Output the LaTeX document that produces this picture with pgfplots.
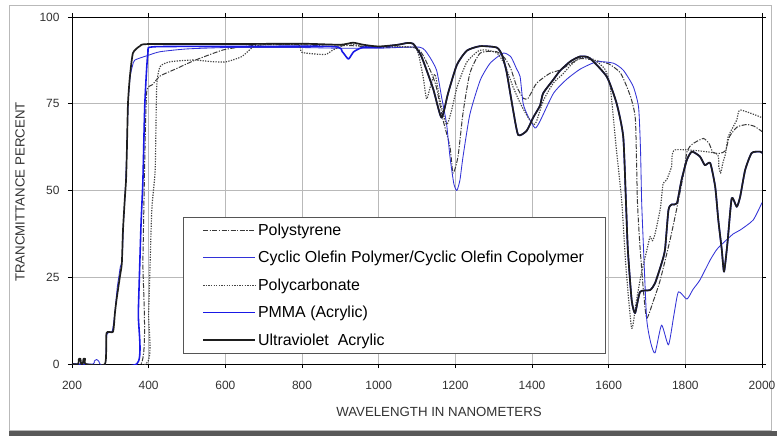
\documentclass[border=0pt]{standalone}
\usepackage{fontspec}
\setmainfont{Liberation Sans}
\usepackage{pgfplots}
\pgfplotsset{compat=1.18}
\definecolor{uvblack}{HTML}{1E1E1E}
\definecolor{psgray}{HTML}{3A3A3A}
\definecolor{pcgray}{HTML}{454545}
\definecolor{copblue}{RGB}{50,50,215}
\definecolor{pmmablue}{RGB}{25,25,230}
\definecolor{labgray}{HTML}{333333}
\definecolor{legframe}{HTML}{555555}
\begin{document}
\begin{tikzpicture}
\useasboundingbox (-72bp,-73bp) rectangle (705bp,364bp);
\fill[white] (-72bp,-73bp) rectangle (705bp,364bp);
\draw[gray!55, line width=0.8pt] (-63bp,-66bp) rectangle (699bp,359bp);
\fill[black!65] (-63bp,-72bp) rectangle (705bp,-67bp);
\begin{axis}[
  at={(0,0)}, anchor=south west,
  scale only axis, width=690bp, height=347bp,
  xmin=200, xmax=2000, ymin=0, ymax=100,
  xtick={200,400,...,2000}, ytick={0,25,50,75,100},
  grid=major, grid style={gray!55, line width=0.5pt},
  axis line style={black, line width=0.9pt},
  tick align=outside, major tick length=4bp,
  tick style={black, line width=0.6pt},
  tick label style={font=\fontsize{12}{14}\selectfont, text=labgray},
  /pgf/number format/assume math mode=true,
  /pgf/number format/1000 sep={},
  xticklabel style={yshift=-10bp},
  yticklabel style={xshift=-5bp},
  legend cell align=left,
  legend style={at={(axis cs:490,42.4)}, anchor=north west,
    draw=legframe, fill=white,
    font=\fontsize{16}{18}\selectfont,
    inner xsep=19bp, inner ysep=4.5bp, row sep=10.5bp},
  legend image code/.code={\path (0bp,0bp) -- (52bp,0bp);\draw[#1] (0bp,0bp) -- (47bp,0bp);},
  every axis plot/.append style={smooth, tension=0.35, line join=round},
]
% Polystyrene (dash-dot)
\addplot[color=psgray, draw=psgray, line width=1.0pt, dash pattern=on 5pt off 1.5pt on 1.2pt off 1.5pt] coordinates {
(200,0)(380,0)(385,30)(390,60)(395,78.5)(410,80.5)(430,83)(470,85)(520,87.5)(594,90.5)(650,91.5)(700,92)(800,92)(880,91.5)(920,91.8)(1000,91.2)(1100,91)(1133,85)(1150,80)(1168,70.3)(1186,62.6)(1194,55)(1207,59.8)(1220,72.3)(1238,83.8)(1265,89.6)(1308,90)(1330,88)(1345,85)(1360,80)(1377,76.6)(1390,76.6)(1412,80.9)(1447,83.8)(1473,84.7)(1500,86.5)(1526,88)(1560,87.6)(1600,86.5)(1630,84)(1647,80)(1660,76)(1670,70)(1675,47)(1681,35)(1690,22)(1699,13.2)(1716,18)(1734,24)(1760,35.7)(1778,45)(1794,54)(1805,61.5)(1820,63.5)(1847,65)(1862,63.5)(1872,61)(1890,60.7)(1905,61.5)(1915,65.5)(1935,68.3)(1960,69)(1980,68.5)(2000,67)
};
\addlegendentry{Polystyrene}
% Cyclic Olefin Polymer
\addplot[color=copblue, draw=copblue, line width=0.85pt] coordinates {
(200,0)(255,0)(258,0.8)(264,1.3)(270,0.8)(273,0)(287,0)(291,8.5)(305,9.5)(312,15)(318,22)(322,25)(326,28)(331,30)(334,40)(339,50)(343,62)(347,76)(352,83)(358,86)(364,87.6)(400,89)(430,90)(500,90.8)(600,91.2)(700,91.2)(800,91.2)(900,91)(1000,91)(1107,91.3)(1130,89)(1151,84.7)(1164,77)(1177,69.3)(1186,59.7)(1196,52)(1204,50)(1212,53)(1220,59.7)(1238,72)(1265,81.8)(1291,86.7)(1325,89.6)(1345,88.5)(1360,85)(1369,82.8)(1377,75)(1390,71.3)(1408,68)(1421,70)(1456,78)(1490,82)(1526,85)(1569,87.1)(1612,86.7)(1638,84.7)(1664,80)(1678,74)(1683,62)(1686,47)(1690,35.7)(1699,13.2)(1710,6)(1721,3.2)(1738,11.2)(1756,5.5)(1770,14)(1782,20.8)(1804,18.7)(1820,21.5)(1838,24.2)(1865,30)(1882,33)(1899,34.9)(1925,37.5)(1943,38.6)(1977,41.5)(2000,46.5)
};
\addlegendentry{Cyclic Olefin Polymer/Cyclic Olefin Copolymer}
% Polycarbonate (dotted)
\addplot[color=pcgray, draw=pcgray, line width=1.15pt, dash pattern=on 1.3pt off 1.3pt] coordinates {
(200,0)(393,0)(400,15)(408,44)(417,56)(421,80)(430,85.7)(456,87.1)(516,87.6)(568,87.1)(603,87.1)(643,88.6)(673,91.4)(700,92)(790,92)(800,89.8)(860,89.2)(881,90.5)(920,92.3)(960,91.5)(1000,91.5)(1090,91.3)(1103,89.6)(1116,82.7)(1125,76.4)(1135,80)(1147,83.5)(1160,76)(1177,69)(1190,73)(1205,80)(1230,87)(1260,90.2)(1282,90.5)(1310,89.5)(1330,86)(1350,80)(1370,75)(1390,71)(1405,69)(1412,70)(1430,76)(1456,81)(1480,83.5)(1500,86)(1526,88.3)(1560,87.8)(1590,85)(1604,80)(1620,62)(1634,47)(1645,28)(1660,10.3)(1672,18)(1685,26)(1700,33)(1708,36.7)(1714,35.5)(1721,37.5)(1735,45)(1742,52)(1751,53)(1764,56.8)(1773,61.7)(1880,60.7)(1887,57)(1892,55)(1898,58)(1905,60.7)(1912,65.5)(1934,70.3)(1943,73.2)(2000,71)
};
\addlegendentry{Polycarbonate}
% PMMA (thick blue)
\addplot[color=pmmablue, draw=pmmablue, line width=1.6pt] coordinates {
(200,0)(369,0)(373,15)(380,40)(385,53)(390,75)(398,89.6)(412,91.4)(600,91.5)(880,91.5)(905,90)(921,87.9)(935,90)(960,91.3)(1000,91.3)(1050,92)(1074,92.5)(1090,92.3)(1110,89)(1125,84.7)(1143,79)(1164,71)(1181,78)(1204,86.2)(1230,90.3)(1265,91.6)(1308,91.2)(1322,89)(1334,84)(1351,73)(1364,66)(1386,67.2)(1403,71)(1421,74.5)(1429,78)(1456,82)(1473,84.5)(1500,87.2)(1525,88.6)(1550,88.2)(1595,82.8)(1621,75)(1638,65.5)(1645,47)(1650,33)(1660,18.4)(1669,14.7)(1682,20.8)(1708,21.3)(1721,23.3)(1738,29)(1747,33)(1756,44.4)(1765,46)(1778,46.3)(1790,53)(1804,58.8)(1817,61.2)(1838,59.8)(1851,57.3)(1865,57.9)(1878,51)(1886,41.5)(1895,33)(1901,26.6)(1910,35)(1921,47.8)(1934,45.3)(1943,48.2)(1956,55.9)(1973,60.8)(1995,61.2)(2000,60.8)
};
\addlegendentry{PMMA (Acrylic)}
% Ultraviolet Acrylic (thick black)
\addplot[color=uvblack, draw=uvblack, line width=1.7pt] coordinates {
(200,0)(216,0)(218,1.5)(222,1.5)(224,0)(228,0)(230,1.5)(234,1.5)(236,0)(286,0)(290,8.9)(307,9.3)(312,14.7)(316,18.4)(325,25.2)(330,29)(333,38.6)(338,48)(341,53)(343,60.8)(346,75)(351,82.8)(359,89.6)(377,91.6)(398,92.2)(600,92.2)(800,92.3)(900,92)(933,92.6)(960,92)(1000,91.5)(1050,92)(1074,92.5)(1090,92.3)(1110,89)(1125,84.7)(1143,79)(1164,71)(1181,78)(1204,86.2)(1230,90.3)(1265,91.6)(1308,91.2)(1322,89)(1334,84)(1351,73)(1364,66)(1386,67.2)(1403,71)(1421,74.5)(1429,78)(1456,82)(1473,84.5)(1500,87.2)(1525,88.6)(1550,88.2)(1595,82.8)(1621,75)(1638,65.5)(1645,47)(1650,33)(1660,18.4)(1669,14.7)(1682,20.8)(1708,21.3)(1721,23.3)(1738,29)(1747,33)(1756,44.4)(1765,46)(1778,46.3)(1790,53)(1804,58.8)(1817,61.2)(1838,59.8)(1851,57.3)(1865,57.9)(1878,51)(1886,41.5)(1895,33)(1901,26.6)(1910,35)(1921,47.8)(1934,45.3)(1943,48.2)(1956,55.9)(1973,60.8)(1995,61.2)(2000,60.8)
};
\addlegendentry{Ultraviolet\ \ Acrylic}
\end{axis}
\node[font=\fontsize{13.3}{15}\selectfont, text=labgray] at (367bp,-48bp) {WAVELENGTH IN NANOMETERS};
\node[font=\fontsize{13.3}{15}\selectfont, text=labgray, rotate=90] at (-52bp,172bp) {TRANCMITTANCE PERCENT};
\end{tikzpicture}
\end{document}
